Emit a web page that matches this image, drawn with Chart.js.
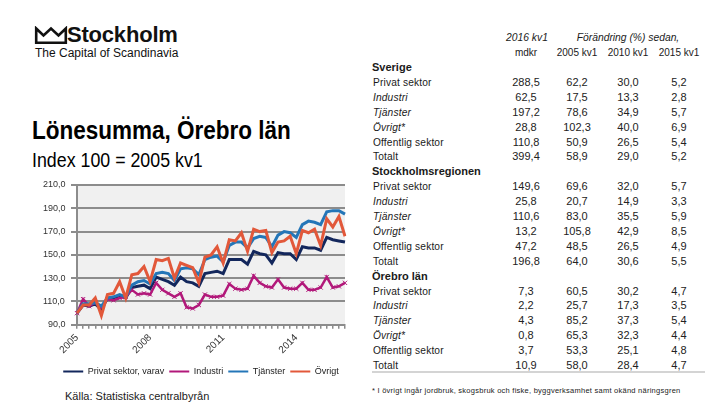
<!DOCTYPE html>
<html lang="sv">
<head>
<meta charset="utf-8">
<script src="https://cdn.jsdelivr.net/npm/chart.js@4.4.1/dist/chart.umd.min.js"></script>
<style>
  html,body{margin:0;padding:0;background:#fff;}
  body{width:720px;height:405px;position:relative;overflow:hidden;font-family:"Liberation Sans",Arial,sans-serif;color:#1a1a1a;}
  .abs{position:absolute;white-space:nowrap;}
  #logoText{left:67px;top:22px;font-size:22px;font-weight:bold;letter-spacing:-0.2px;color:#111;}
  #logoSub{left:35px;top:46px;font-size:12px;color:#111;}
  #title{left:32px;top:116px;font-size:25px;font-weight:bold;transform:scaleX(0.9);transform-origin:0 0;color:#000;}
  #subtitle{left:32px;top:149px;font-size:20px;transform:scaleX(0.89);transform-origin:0 0;color:#000;}
  #chartBox{position:absolute;left:0;top:172px;width:360px;height:214px;}
  #source{left:65px;top:390px;font-size:11px;color:#222;}
  .th{font-size:10.3px;font-style:italic;transform:translate(-50%,-50%);}
  .th2{font-size:10px;transform:translate(-50%,-50%);}
  .sec{font-size:11px;font-weight:bold;transform:translateY(-50%);left:372px;}
  .lbl{font-size:10.2px;transform:translateY(-50%);left:373px;letter-spacing:0.15px;}
  .num{font-size:11px;transform:translate(-50%,-50%);color:#222;}
  #rule{position:absolute;left:372px;top:371px;width:333px;height:2px;background:#d4d4d4;}
  #foot{left:372px;top:386px;font-size:7.5px;letter-spacing:0.25px;color:#222;}
</style>
</head>
<body>
<svg class="abs" style="left:33px;top:26px" width="36" height="20" viewBox="0 0 36 20">
  <polygon points="3.2,2.5 10.5,9.5 18,2.5 25.5,9.5 32.8,2.5 32.8,16.8 3.2,16.8" fill="none" stroke="#111" stroke-width="2.6" stroke-linejoin="miter"/>
</svg>
<div class="abs" id="logoText">Stockholm</div>
<div class="abs" id="logoSub">The Capital of Scandinavia</div>
<div class="abs" id="title">Lönesumma, Örebro län</div>
<div class="abs" id="subtitle">Index 100 = 2005 kv1</div>
<div id="chartBox"><canvas id="c"></canvas></div>
<div class="abs" id="source">Källa: Statistiska centralbyrån</div>
<div id="table"></div>
<div id="rule"></div>
<div class="abs" id="foot">* I övrigt ingår jordbruk, skogsbruk och fiske, byggverksamhet samt okänd näringsgren</div>
<script>
// ---------- Chart data (Index 100 = 2005 kv1, quarterly 2005 kv1 – 2016 kv1) ----------
const startYear = 2005;
const quarterCount = 45;
const tickYears = ['2005', '2008', '2011', '2014'];
const seriesNames = ['Privat sektor, varav', 'Industri', 'Tjänster', 'Övrigt'];

const privatSektor = [100,107,106,108,103,113,113,115,113,122,123,124,121,131,129,127,124,131,127,126,123,134,135,136,134,146,146,146,142,153,151,150,143,152,151,151,146,157,156,156,154,165,163,162,161];
const industri     = [100,112,106,109,105,112,111,113,114,120,116,117,116,126,120,117,114,117,105,104,107,116,114,114,115,125,121,120,121,132,126,123,122,129,122,121,121,126,120,120,122,131,122,123,126];
const tjanster     = [100,108,108,109,106,113,114,116,114,124,127,128,125,134,135,134,128,138,139,138,133,146,148,149,144,158,161,161,156,164,166,165,157,167,170,169,165,176,179,178,176,187,188,188,185];
const ovrigt       = [100,107,107,113,98,116,117,127,113,133,134,140,127,146,145,147,130,143,141,139,126,148,150,157,143,163,162,169,153,172,170,171,152,161,162,166,151,171,169,172,158,181,174,183,166];

const categories = [];
for (let i = 0; i < quarterCount; i++) {
  categories.push((startYear + Math.floor(i / 4)) + ' kv' + (i % 4 + 1));
}

// ---------- Table data ----------
const tableHead1 = ['2016 kv1', 'Förändring (%) sedan,'];
const tableHead2 = ['mdkr', '2005 kv1', '2010 kv1', '2015 kv1'];
const sectionNames = ['Sverige', 'Stockholmsregionen', 'Örebro län'];
const rowLabels = ['Privat sektor', 'Industri', 'Tjänster', 'Övrigt*', 'Offentlig sektor', 'Totalt'];
const italicRow = [false, true, true, true, false, false];
const sverigeRows = [
  [288.5, 62.2, 30.0, 5.2],
  [62.5, 17.5, 13.3, 2.8],
  [197.2, 78.6, 34.9, 5.7],
  [28.8, 102.3, 40.0, 6.9],
  [110.8, 50.9, 26.5, 5.4],
  [399.4, 58.9, 29.0, 5.2]
];
const stockholmRows = [
  [149.6, 69.6, 32.0, 5.7],
  [25.8, 20.7, 14.9, 3.3],
  [110.6, 83.0, 35.5, 5.9],
  [13.2, 105.8, 42.9, 8.5],
  [47.2, 48.5, 26.5, 4.9],
  [196.8, 64.0, 30.6, 5.5]
];
const orebroRows = [
  [7.3, 60.5, 30.2, 4.7],
  [2.2, 25.7, 17.3, 3.5],
  [4.3, 85.2, 37.3, 5.4],
  [0.8, 65.3, 32.3, 4.4],
  [3.7, 53.3, 25.1, 4.8],
  [10.9, 58.0, 28.4, 4.7]
];

// ---------- Build table ----------
(function buildTable() {
  const t = document.getElementById('table');
  const colX = [526, 577, 628, 679];
  const fmt = v => v.toFixed(1).replace('.', ',');
  const add = (cls, text, x, y) => {
    const d = document.createElement('div');
    d.className = 'abs ' + cls;
    d.textContent = text;
    if (x !== null) d.style.left = x + 'px';
    d.style.top = y + 'px';
    t.appendChild(d);
  };
  add('th', tableHead1[0], 527, 37);
  add('th', tableHead1[1], 628, 37);
  tableHead2.forEach((h, i) => add('th2', h, colX[i], 52));
  const blocks = [sverigeRows, stockholmRows, orebroRows];
  const step = 14.9;
  let y = 67;
  blocks.forEach((rows, b) => {
    add('sec', sectionNames[b], null, y);
    y += step;
    rows.forEach((vals, r) => {
      add('lbl', rowLabels[r], null, y);
      if (italicRow[r]) t.lastChild.style.fontStyle = 'italic';
      vals.forEach((v, c) => add('num', fmt(v), colX[c], y));
      y += step;
    });
  });
})();

// ---------- Chart ----------
const colors = {
  privat: '#13275c',
  industri: '#b2187a',
  tjanster: '#2476b8',
  ovrigt: '#e2583a'
};

const plotBg = {
  id: 'plotBg',
  beforeDraw(chart) {
    const a = chart.chartArea, ctx = chart.ctx;
    ctx.save();
    ctx.fillStyle = '#f0f0f0';
    ctx.fillRect(a.left, a.top, a.right - a.left, a.bottom - a.top);
    ctx.restore();
  }
};

const mk = (label, data, color, order, extra) => Object.assign({
  label, data,
  borderColor: color,
  backgroundColor: color,
  borderWidth: 3,
  pointRadius: 0,
  tension: 0,
  order
}, extra || {});

const FONT = '"Liberation Sans", Arial, sans-serif';

new Chart(document.getElementById('c'), {
  type: 'line',
  data: {
    labels: categories,
    datasets: [
      mk(seriesNames[0], privatSektor, colors.privat, 3),
      mk(seriesNames[1], industri, colors.industri, 2, {
        borderWidth: 2.5, pointRadius: 3, pointStyle: 'crossRot',
        pointBorderColor: colors.industri, pointBorderWidth: 1
      }),
      mk(seriesNames[2], tjanster, colors.tjanster, 1),
      mk(seriesNames[3], ovrigt, colors.ovrigt, 0)
    ]
  },
  options: {
    responsive: true,
    maintainAspectRatio: false,
    animation: false,
    devicePixelRatio: 1,
    layout: { padding: { left: 57, right: 15, top: 13, bottom: 0 } },
    plugins: {
      tooltip: { enabled: false },
      legend: {
        position: 'bottom',
        labels: {
          boxWidth: 20,
          boxHeight: 2,
          padding: 5,
          color: '#222',
          font: { family: FONT, size: 9 },
          sort: (a, b) => a.datasetIndex - b.datasetIndex,
          generateLabels: (chart) => Chart.defaults.plugins.legend.labels.generateLabels(chart)
            .map(l => Object.assign(l, { lineWidth: 0 }))
        }
      }
    },
    scales: {
      x: {
        afterFit: s => { s.height = s.height + 3; },
        grid: { display: true, drawOnChartArea: false, drawTicks: true, tickLength: 4, color: '#8c8c8c', lineWidth: 1.5 },
        border: { display: true, color: '#8c8c8c', width: 2 },
        ticks: {
          autoSkip: false, minRotation: 45, maxRotation: 45, padding: 3,
          color: '#333',
          font: { family: FONT, size: 10 },
          callback: function (v, i) {
            const y = categories[i].slice(0, 4);
            return (categories[i].endsWith('kv1') && tickYears.includes(y)) ? y : '';
          }
        }
      },
      y: {
        min: 90, max: 210,
        afterFit: s => { s.width = 20; },
        grid: { color: '#8c8c8c', lineWidth: 2, tickLength: 6 },
        border: { display: true, color: '#8c8c8c', width: 2 },
        ticks: {
          stepSize: 20, mirror: true, padding: -34, color: '#333',
          font: { family: FONT, size: 9 },
          callback: v => (v < 100 ? '\u2007' : '') + v.toFixed(1).replace('.', ',')
        }
      }
    }
  },
  plugins: [plotBg]
});
</script>
</body>
</html>
